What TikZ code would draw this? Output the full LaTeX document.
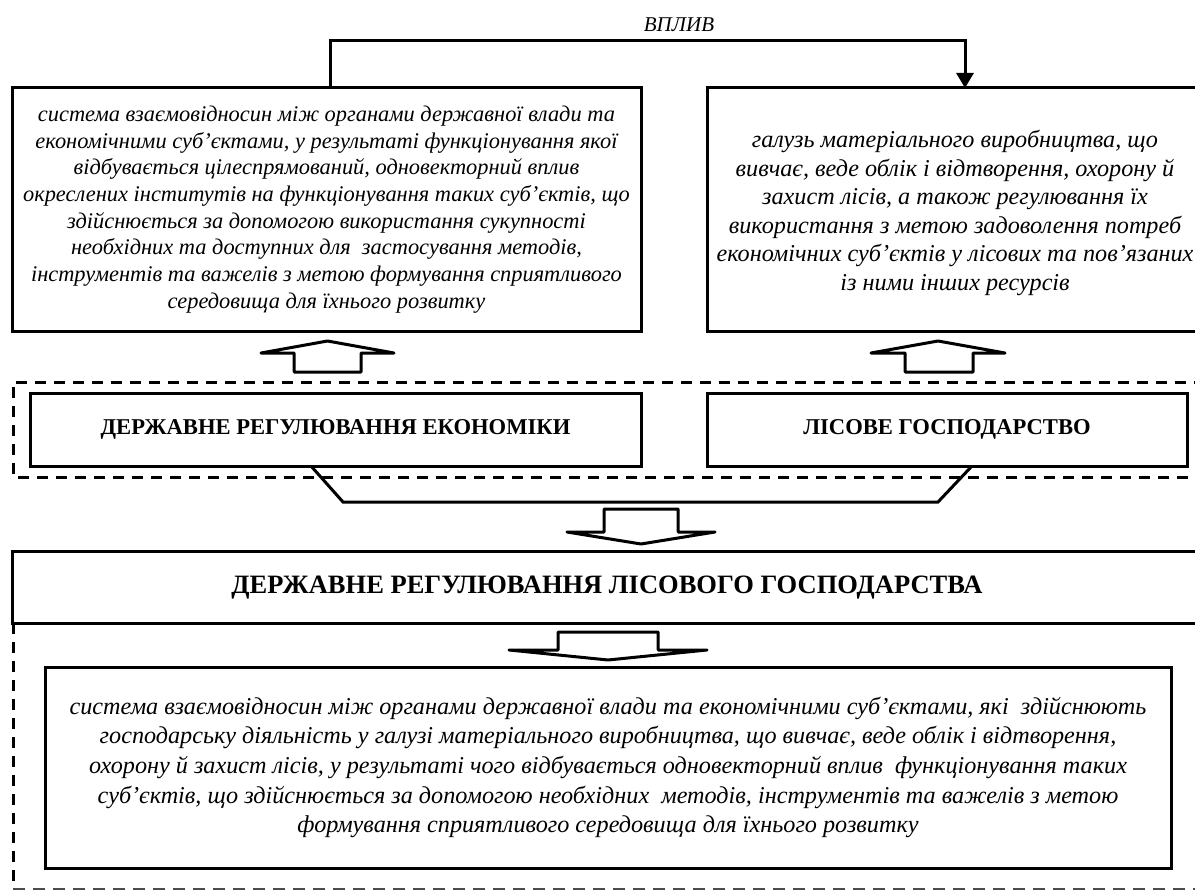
\documentclass[tikz,border=0pt]{standalone}
\usepackage{fontspec}
\setmainfont{Liberation Serif}
\usetikzlibrary{arrows.meta,calc}
\begin{document}
\begin{tikzpicture}[x=1pt,y=-1pt,
  box/.style={draw, line width=3pt, outer sep=0pt, inner sep=0pt, align=center, fill=white},
  deftext/.style={font=\fontsize{22.4}{26.7}\selectfont\itshape},
  headtext/.style={font=\fontsize{22.6}{26}\selectfont\bfseries},
  bigheadtext/.style={font=\fontsize{26.5}{30}\selectfont\bfseries},
  conn/.style={line width=3pt, line join=miter},
  hollow/.style={draw, line width=3pt, line join=round, line cap=round, fill=white},
  dashbox/.style={line width=3pt, dash pattern=on 11pt off 8pt},
  thindash/.style={line width=1.6pt, black!70, dash pattern=on 12pt off 8pt}]
\useasboundingbox (0,0) rectangle (1195,891);
\fill[white] (0,0) rectangle (1195,891);

% dashed groupings
\draw[dashbox] (1205,382) -- (13,382) -- (13,477) -- (1205,477);
\draw[dashbox] (13,623) -- (13,889);
\draw[thindash] (13,889) -- (1205,889);

% nodes
\node[box, deftext, minimum width=629pt, minimum height=243pt] (tl) at (326.5,209.5)
 {система взаємовідносин між органами державної влади та\\
  економічними суб’єктами, у результаті функціонування якої\\
  відбувається цілеспрямований, одновекторний вплив\\
  окреслених інститутів на функціонування таких суб’єктів, що\\
  здійснюється за допомогою використання сукупності\\
  необхідних та доступних для\ \ застосування методів,\\
  інструментів та важелів з метою формування сприятливого\\
  середовища для їхнього розвитку};
\node[box, minimum width=493pt, minimum height=243pt] (tr) at (953.5,209.5) {};
\node[align=center, font=\fontsize{24.2}{28.6}\selectfont\itshape] (trt) at (955,213)
 {галузь матеріального виробництва, що\\
  вивчає, веде облік і відтворення, охорону й\\
  захист лісів, а також регулювання їх\\
  використання з метою задоволення потреб\\
  економічних суб’єктів у лісових та пов’язаних\\
  із ними інших ресурсів};

\node[box, headtext, minimum width=611pt, minimum height=73pt] (dre) at (335.5,429.5)
 {ДЕРЖАВНЕ РЕГУЛЮВАННЯ ЕКОНОМІКИ};
\node[box, headtext, minimum width=480pt, minimum height=73pt] (lg) at (947,429.5)
 {ЛІСОВЕ ГОСПОДАРСТВО};

\node[box, minimum width=1188pt, minimum height=72pt] (drlg) at (606,587) {};
\node[bigheadtext] (drlgt) at (607,588) {ДЕРЖАВНЕ РЕГУЛЮВАННЯ ЛІСОВОГО ГОСПОДАРСТВА};

\node[box, font=\fontsize{24.2}{29.7}\selectfont\itshape, minimum width=1126pt, minimum height=201pt] (bot) at (608,767.5)
 {система взаємовідносин між органами державної влади та економічними суб’єктами, які\ \ здійснюють\\
  господарську діяльність у галузі матеріального виробництва, що вивчає, веде облік і відтворення,\\
  охорону й захист лісів, у результаті чого відбувається одновекторний вплив\ \ функціонування таких\\
  суб’єктів, що здійснюється за допомогою необхідних\ \ методів, інструментів та важелів з метою\\
  формування сприятливого середовища для їхнього розвитку};

% influence connector
\coordinate (v1) at (330,41);
\coordinate (v2) at (965,41);
\draw[conn, -{Triangle[length=15pt,width=17pt]}] (tl.north -| v1) -- (v1) -- (v2) -- (tr.north -| v2);
\node[font=\fontsize{21}{24}\selectfont\itshape] (vplyv) at (679,25) {ВПЛИВ};

% bracket joining the two concepts
\coordinate (b1) at (343,502);
\coordinate (b2) at (938,502);
\draw[conn] (dre.south -| 311,0) -- (b1) -- (b2) -- (lg.south -| 972,0);

% hollow block arrows
\draw[hollow] (294,372) -- (294,353) -- (261,353) -- (327.5,341) -- (394,353) -- (361,353) -- (361,372) -- cycle;
\draw[hollow] (905,372) -- (905,353) -- (871,353) -- (938,341) -- (1005,353) -- (973,353) -- (973,372) -- cycle;
\draw[hollow] (604,509) -- (604,532) -- (567,532) -- (641,544) -- (715,532) -- (678,532) -- (678,509) -- cycle;
\draw[hollow] (558,632) -- (558,650) -- (509,650) -- (608,660) -- (707,650) -- (658,650) -- (658,632) -- cycle;
\end{tikzpicture}
\end{document}
